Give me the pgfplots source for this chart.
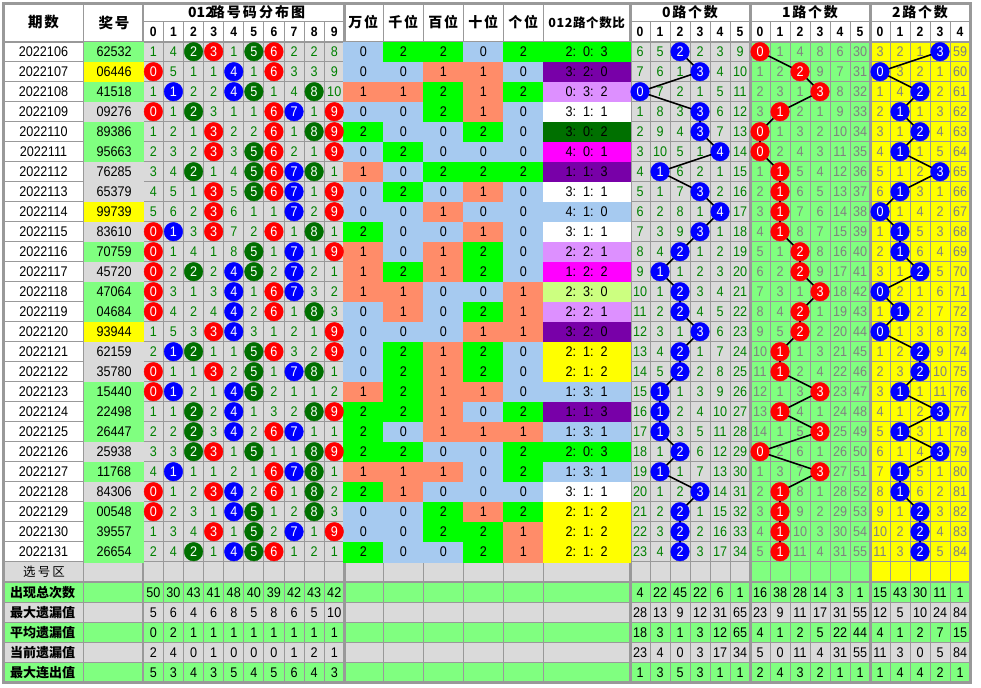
\documentclass[border=0pt]{standalone}
\usepackage{pgfplots}
\pgfplotsset{compat=1.18}
\usepackage{pgfplotstable}
\usepackage{fontspec}
\setmainfont{Liberation Sans}
\newfontfamily\numfam[FakeStretch=0.9]{Liberation Sans}
\newfontfamily\cjk{Noto Sans CJK SC}
\newfontfamily\cjks[LetterSpace=12]{Noto Sans CJK SC}
\newfontfamily\cjkw[LetterSpace=15]{Noto Sans CJK SC}
\newfontfamily\cjkn[LetterSpace=5]{Noto Sans CJK SC}
\newfontfamily\cjkx[LetterSpace=16]{Noto Sans CJK SC}
\newcommand\numf{\fontsize{14}{16}\selectfont\numfam}
\newcommand\bnumf{\fontsize{13.5}{16}\selectfont\numfam\bfseries}
\newcommand\hf{\fontsize{14}{16}\selectfont\cjks\bfseries}
\newcommand\hfs{\fontsize{14.5}{16}\selectfont\cjks\bfseries}
\newcommand\hfw{\fontsize{14}{16}\selectfont\cjkw\bfseries}
\newcommand\hfd{\fontsize{14}{16}\selectfont\cjk\bfseries}
\newcommand\hfn{\fontsize{12.5}{16}\selectfont\cjkn\bfseries}
\newcommand\lf{\fontsize{13}{16}\selectfont\cjk\bfseries}
\newcommand\xf{\fontsize{12.5}{16}\selectfont\cjkx}
\def\rfmtx#1:#2:#3\relax{#1:\enspace#2:\enspace#3}
\newcommand\rfmt{\edef\rtmp{\pgfplotspointmeta}\expandafter\rfmtx\rtmp\relax}

\definecolor{cgray}{RGB}{218,218,218}
\definecolor{lgreen}{RGB}{128,255,128}
\definecolor{cyel}{RGB}{255,255,0}
\definecolor{gl}{RGB}{153,153,153}
\definecolor{ngreen}{RGB}{0,128,0}
\definecolor{ngray}{RGB}{128,128,128}
\definecolor{cred}{RGB}{255,0,0}
\definecolor{cblue}{RGB}{0,0,255}
\definecolor{cdg}{RGB}{0,112,0}
\colorlet{dc0}{cred}\colorlet{dc1}{cblue}\colorlet{dc2}{cdg}
\colorlet{dc3}{cred}\colorlet{dc4}{cblue}\colorlet{dc5}{cdg}
\colorlet{dc6}{cred}\colorlet{dc7}{cblue}\colorlet{dc8}{cdg}
\colorlet{dc9}{cred}

\pgfplotsset{
  txt/.style 2 args={draw=none, mark=none, point meta=explicit symbolic,
    nodes near coords={\pgfplotspointmeta},
    every node near coord/.append style={anchor=center, inner sep=0pt, font=#1, text=#2}},
  circ/.style={only marks, mark=*, mark size=9.3, color=#1, point meta=explicit symbolic,
    every node near coord/.append style={anchor=center, inner sep=0pt, font=\numf, text=white}},
  cellsq/.style={scatter, only marks, mark=square*, mark size=10, point meta=explicit,
    point meta min=0, point meta max=11,
    scatter/use mapped color={draw=mapped color, fill=mapped color},
    mark options={xscale=#1, line width=0.1pt}},
}

\pgfplotstableread{
r qi jh jc w q b s g rt rc
0 2022106 62532 10 0 2 2 0 2 2:0:3 2
1 2022107 06446 9 0 0 1 1 0 3:2:0 4
2 2022108 41518 10 1 1 2 1 2 0:3:2 5
3 2022109 09276 11 0 0 2 1 0 3:1:1 3
4 2022110 89386 10 2 0 0 2 0 3:0:2 6
5 2022111 95663 10 0 2 0 0 0 4:0:1 7
6 2022112 76285 11 1 0 2 2 2 1:1:3 4
7 2022113 65379 11 0 2 0 1 0 3:1:1 3
8 2022114 99739 9 0 0 1 0 0 4:1:0 0
9 2022115 83610 11 2 0 0 1 0 3:1:1 3
10 2022116 70759 10 1 0 1 2 0 2:2:1 5
11 2022117 45720 11 1 2 1 2 0 1:2:2 7
12 2022118 47064 10 1 1 0 0 1 2:3:0 8
13 2022119 04684 10 0 1 0 2 1 2:2:1 5
14 2022120 93944 9 0 0 0 1 1 3:2:0 4
15 2022121 62159 11 0 2 1 2 0 2:1:2 9
16 2022122 35780 11 0 2 1 2 0 2:1:2 9
17 2022123 15440 10 1 2 1 1 0 1:3:1 0
18 2022124 22498 10 2 2 1 0 2 1:1:3 4
19 2022125 26447 10 2 0 1 1 1 1:3:1 0
20 2022126 25938 11 2 2 0 0 2 2:0:3 2
21 2022127 11768 10 1 1 1 0 2 1:3:1 0
22 2022128 84306 11 2 1 0 0 0 3:1:1 3
23 2022129 00548 10 0 0 2 1 2 2:1:2 9
24 2022130 39557 10 0 0 2 2 1 2:1:2 9
25 2022131 26654 10 2 0 0 2 1 2:1:2 9
}\main

\pgfplotstableread{
r d0 d1 d2 d3 d4 d5 d6 d7 d8 d9
0 1 4 0 0 1 0 0 2 2 8
1 0 5 1 1 0 1 0 3 3 9
2 1 0 2 2 0 0 1 4 0 10
3 0 1 0 3 1 1 0 0 1 0
4 1 2 1 0 2 2 0 1 0 0
5 2 3 2 0 3 0 0 2 1 0
6 3 4 0 1 4 0 0 0 0 1
7 4 5 1 0 5 0 0 0 1 0
8 5 6 2 0 6 1 1 0 2 0
9 0 0 3 0 7 2 0 1 0 1
10 0 1 4 1 8 0 1 0 1 0
11 0 2 0 2 0 0 2 0 2 1
12 0 3 1 3 0 1 0 0 3 2
13 0 4 2 4 0 2 0 1 0 3
14 1 5 3 0 0 3 1 2 1 0
15 2 0 0 1 1 0 0 3 2 0
16 0 1 1 0 2 0 1 0 0 1
17 0 0 2 1 0 0 2 1 1 2
18 1 1 0 2 0 1 3 2 0 0
19 2 2 0 3 0 2 0 0 1 1
20 3 3 0 0 1 0 1 1 0 0
21 4 0 1 1 2 1 0 0 0 1
22 0 1 2 0 0 2 0 1 0 2
23 0 2 3 1 0 0 1 2 0 3
24 1 3 4 0 1 0 2 0 1 0
25 2 4 0 1 0 0 0 1 2 1
}\dist

\pgfplotstableread{
r a0 a1 a2 a3 a4 a5 ha b0 b1 b2 b3 b4 b5 hb c0 c1 c2 c3 c4 hc
0 6 5 0 2 3 9 2 0 1 4 8 6 30 0 3 2 1 0 59 3
1 7 6 1 0 4 10 3 1 2 0 9 7 31 2 0 3 2 1 60 0
2 0 7 2 1 5 11 0 2 3 1 0 8 32 3 1 4 0 2 61 2
3 1 8 3 0 6 12 3 3 0 2 1 9 33 1 2 0 1 3 62 1
4 2 9 4 0 7 13 3 0 1 3 2 10 34 0 3 1 0 4 63 2
5 3 10 5 1 0 14 4 0 2 4 3 11 35 0 4 0 1 5 64 1
6 4 0 6 2 1 15 1 1 0 5 4 12 36 1 5 1 2 0 65 3
7 5 1 7 0 2 16 3 2 0 6 5 13 37 1 6 0 3 1 66 1
8 6 2 8 1 0 17 4 3 0 7 6 14 38 1 0 1 4 2 67 0
9 7 3 9 0 1 18 3 4 0 8 7 15 39 1 1 0 5 3 68 1
10 8 4 0 1 2 19 2 5 1 0 8 16 40 2 2 0 6 4 69 1
11 9 0 1 2 3 20 1 6 2 0 9 17 41 2 3 1 0 5 70 2
12 10 1 0 3 4 21 2 7 3 1 0 18 42 3 0 2 1 6 71 0
13 11 2 0 4 5 22 2 8 4 0 1 19 43 2 1 0 2 7 72 1
14 12 3 1 0 6 23 3 9 5 0 2 20 44 2 0 1 3 8 73 0
15 13 4 0 1 7 24 2 10 0 1 3 21 45 1 1 2 0 9 74 2
16 14 5 0 2 8 25 2 11 0 2 4 22 46 1 2 3 0 10 75 2
17 15 0 1 3 9 26 1 12 1 3 0 23 47 3 3 0 1 11 76 1
18 16 0 2 4 10 27 1 13 0 4 1 24 48 1 4 1 2 0 77 3
19 17 0 3 5 11 28 1 14 1 5 0 25 49 3 5 0 3 1 78 1
20 18 1 0 6 12 29 2 0 2 6 1 26 50 0 6 1 4 0 79 3
21 19 0 1 7 13 30 1 1 3 7 0 27 51 3 7 0 5 1 80 1
22 20 1 2 0 14 31 3 2 0 8 1 28 52 1 8 0 6 2 81 1
23 21 2 0 1 15 32 2 3 0 9 2 29 53 1 9 1 0 3 82 2
24 22 3 0 2 16 33 2 4 0 10 3 30 54 1 10 2 0 4 83 2
25 23 4 0 3 17 34 2 5 0 11 4 31 55 1 11 3 0 5 84 2
}\road

\pgfplotstableread{
r s0 s1 s2 s3 s4 s5 s6 s7 s8 s9 t0 t1 t2 t3 t4 t5 u0 u1 u2 u3 u4 u5 v0 v1 v2 v3 v4
0 50 30 43 41 48 40 39 42 43 42 4 22 45 22 6 1 16 38 28 14 3 1 15 43 30 11 1
1 5 6 4 6 8 5 8 6 5 10 28 13 9 12 31 65 23 9 11 17 31 55 12 5 10 24 84
2 0 2 1 1 1 1 1 1 1 1 18 3 1 3 12 65 4 1 2 5 22 44 4 1 2 7 15
3 2 4 0 1 0 0 0 1 2 1 23 4 0 3 17 34 5 0 11 4 31 55 11 3 0 5 84
4 5 3 4 3 5 4 5 6 4 3 1 3 5 3 1 1 2 4 3 2 1 1 1 4 4 2 1
}\stat

\begin{document}
\begin{tikzpicture}
\begin{axis}[
  x=1pt, y=1pt, y dir=reverse,
  xmin=0, xmax=981, ymin=0, ymax=687,
  hide axis, clip=false,
  colormap={cells}{rgb255=(166,202,240) rgb255=(255,140,105) rgb255=(0,255,0) rgb255=(255,255,255) rgb255=(120,0,168) rgb255=(221,144,255) rgb255=(0,112,0) rgb255=(255,0,255) rgb255=(204,255,128) rgb255=(255,255,0) rgb255=(128,255,128) rgb255=(218,218,218)},
]
% backgrounds
\addplot[fill=white, draw=none] coordinates {(0,0)(981,0)(981,687)(0,687)} -- cycle;
\addplot[fill=cgray, draw=none] coordinates {(143.3,41.7)(344.3,41.7)(344.3,581.7)(143.3,581.7)} -- cycle;
\addplot[fill=cgray, draw=none] coordinates {(3.3,561.7)(630,561.7)(630,581.7)(3.3,581.7)} -- cycle;
\addplot[fill=cgray, draw=none] coordinates {(630,41.7)(750,41.7)(750,581.7)(630,581.7)} -- cycle;
\addplot[fill=lgreen, draw=none] coordinates {(750,41.7)(870,41.7)(870,581.7)(750,581.7)} -- cycle;
\addplot[fill=cyel, draw=none] coordinates {(870,41.7)(970,41.7)(970,581.7)(870,581.7)} -- cycle;
\addplot[fill=lgreen, draw=none] coordinates {(3.3,582.2)(970,582.2)(970,602.7)(3.3,602.7)} -- cycle;
\addplot[fill=cgray, draw=none] coordinates {(3.3,602.7)(970,602.7)(970,622.7)(3.3,622.7)} -- cycle;
\addplot[fill=lgreen, draw=none] coordinates {(3.3,622.7)(970,622.7)(970,642.7)(3.3,642.7)} -- cycle;
\addplot[fill=cgray, draw=none] coordinates {(3.3,642.7)(970,642.7)(970,662.7)(3.3,662.7)} -- cycle;
\addplot[fill=lgreen, draw=none] coordinates {(3.3,662.7)(970,662.7)(970,682.7)(3.3,682.7)} -- cycle;
% coloured cells
\addplot[cellsq=2.975] table[x expr=113.55, y expr=51.7+20*\thisrow{r}, meta=jc] {\main};
\addplot[cellsq=2] table[x expr=363.3, y expr=51.7+20*\thisrow{r}, meta=w] {\main};
\addplot[cellsq=2] table[x expr=403.3, y expr=51.7+20*\thisrow{r}, meta=q] {\main};
\addplot[cellsq=2] table[x expr=443.3, y expr=51.7+20*\thisrow{r}, meta=b] {\main};
\addplot[cellsq=2] table[x expr=483.3, y expr=51.7+20*\thisrow{r}, meta=s] {\main};
\addplot[cellsq=2] table[x expr=523.3, y expr=51.7+20*\thisrow{r}, meta=g] {\main};
\addplot[cellsq=4.335] table[x expr=586.65, y expr=51.7+20*\thisrow{r}, meta=rc] {\main};
% grid lines
\addplot[gl, line width=1pt, unbounded coords=jump] coordinates {
(3.3,61.7)(970,61.7)(nan,nan)(3.3,81.7)(970,81.7)(nan,nan)(3.3,101.7)(970,101.7)(nan,nan)
(3.3,121.7)(970,121.7)(nan,nan)(3.3,141.7)(970,141.7)(nan,nan)(3.3,161.7)(970,161.7)(nan,nan)
(3.3,181.7)(970,181.7)(nan,nan)(3.3,201.7)(970,201.7)(nan,nan)(3.3,221.7)(970,221.7)(nan,nan)
(3.3,241.7)(970,241.7)(nan,nan)(3.3,261.7)(970,261.7)(nan,nan)(3.3,281.7)(970,281.7)(nan,nan)
(3.3,301.7)(970,301.7)(nan,nan)(3.3,321.7)(970,321.7)(nan,nan)(3.3,341.7)(970,341.7)(nan,nan)
(3.3,361.7)(970,361.7)(nan,nan)(3.3,381.7)(970,381.7)(nan,nan)(3.3,401.7)(970,401.7)(nan,nan)
(3.3,421.7)(970,421.7)(nan,nan)(3.3,441.7)(970,441.7)(nan,nan)(3.3,461.7)(970,461.7)(nan,nan)
(3.3,481.7)(970,481.7)(nan,nan)(3.3,501.7)(970,501.7)(nan,nan)(3.3,521.7)(970,521.7)(nan,nan)
(3.3,541.7)(970,541.7)(nan,nan)(3.3,561.7)(970,561.7)(nan,nan)(3.3,602.7)(970,602.7)(nan,nan)
(3.3,622.7)(970,622.7)(nan,nan)(3.3,642.7)(970,642.7)(nan,nan)(3.3,662.7)(970,662.7)(nan,nan)
(143.3,21.7)(344.3,21.7)(nan,nan)(630,21.7)(970,21.7)(nan,nan)
(83.8,3.3)(83.8,682.7)(nan,nan)(383.3,3.3)(383.3,682.7)(nan,nan)(423.3,3.3)(423.3,682.7)(nan,nan)
(463.3,3.3)(463.3,682.7)(nan,nan)(503.3,3.3)(503.3,682.7)(nan,nan)(543.3,3.3)(543.3,682.7)(nan,nan)
(163.4,21.7)(163.4,682.7)(nan,nan)(183.5,21.7)(183.5,682.7)(nan,nan)(203.6,21.7)(203.6,682.7)(nan,nan)
(223.7,21.7)(223.7,682.7)(nan,nan)(243.8,21.7)(243.8,682.7)(nan,nan)(263.9,21.7)(263.9,682.7)(nan,nan)
(284.0,21.7)(284.0,682.7)(nan,nan)(304.1,21.7)(304.1,682.7)(nan,nan)(324.2,21.7)(324.2,682.7)(nan,nan)
(650,21.7)(650,682.7)(nan,nan)(670,21.7)(670,682.7)(nan,nan)(690,21.7)(690,682.7)(nan,nan)
(710,21.7)(710,682.7)(nan,nan)(730,21.7)(730,682.7)(nan,nan)
(770,21.7)(770,682.7)(nan,nan)(790,21.7)(790,682.7)(nan,nan)(810,21.7)(810,682.7)(nan,nan)
(830,21.7)(830,682.7)(nan,nan)(850,21.7)(850,682.7)(nan,nan)
(890,21.7)(890,682.7)(nan,nan)(910,21.7)(910,682.7)(nan,nan)(930,21.7)(930,682.7)(nan,nan)
(950,21.7)(950,682.7)
};
\addplot[gl, line width=2.2pt, unbounded coords=jump] coordinates {
(3.3,41.7)(970,41.7)(nan,nan)(143.3,3.3)(143.3,682.7)(nan,nan)(3.3,582.2)(970,582.2)};
\addplot[gl, line width=3pt, unbounded coords=jump] coordinates {
(344.3,3.3)(344.3,682.7)(nan,nan)(630,3.3)(630,682.7)(nan,nan)(750,3.3)(750,682.7)(nan,nan)(870,3.3)(870,682.7)};
\addplot[gl, line width=3pt] coordinates {(3.3,3.3)(970.5,3.3)(970.5,682.5)(3.3,682.5)} -- cycle;
% connecting lines
\addplot[black, line width=1.6pt] table[x expr=640+20*\thisrow{ha}, y expr=51.7+20*\thisrow{r}] {\road};
\addplot[black, line width=1.6pt] table[x expr=760+20*\thisrow{hb}, y expr=51.7+20*\thisrow{r}] {\road};
\addplot[black, line width=1.6pt] table[x expr=880+20*\thisrow{hc}, y expr=51.7+20*\thisrow{r}] {\road};
% road circles
\addplot[circ=cblue, nodes near coords={\pgfplotspointmeta}] table[x expr=640+20*\thisrow{ha}, y expr=51.7+20*\thisrow{r}, meta=ha] {\road};
\addplot[circ=cred, nodes near coords={\pgfplotspointmeta}] table[x expr=760+20*\thisrow{hb}, y expr=51.7+20*\thisrow{r}, meta=hb] {\road};
\addplot[circ=cblue, nodes near coords={\pgfplotspointmeta}] table[x expr=880+20*\thisrow{hc}, y expr=51.7+20*\thisrow{r}, meta=hc] {\road};
% distribution
\pgfplotsinvokeforeach{0,...,9}{
  \addplot[txt={\numf}{ngreen}, restrict expr to domain={\thisrow{d#1}}{0.5:999}]
    table[x expr=153.35+20.1*#1, y expr=51.7+20*\thisrow{r}, meta=d#1] {\dist};
  \addplot[circ=dc#1, nodes near coords={#1}, restrict expr to domain={\thisrow{d#1}}{-0.5:0.5}]
    table[x expr=153.35+20.1*#1, y expr=51.7+20*\thisrow{r}, meta=d#1] {\dist};
  \addplot[txt={\numf}{black}]
    table[x expr=153.35+20.1*#1, y expr=592.7+20*\thisrow{r}, meta=s#1] {\stat};
}
\pgfplotsinvokeforeach{0,...,5}{
  \addplot[txt={\numf}{ngreen}, restrict expr to domain={\thisrow{a#1}}{0.5:999}]
    table[x expr=640+20*#1, y expr=51.7+20*\thisrow{r}, meta=a#1] {\road};
  \addplot[txt={\numf}{ngray}, restrict expr to domain={\thisrow{b#1}}{0.5:999}]
    table[x expr=760+20*#1, y expr=51.7+20*\thisrow{r}, meta=b#1] {\road};
  \addplot[txt={\numf}{black}]
    table[x expr=640+20*#1, y expr=592.7+20*\thisrow{r}, meta=t#1] {\stat};
  \addplot[txt={\numf}{black}]
    table[x expr=760+20*#1, y expr=592.7+20*\thisrow{r}, meta=u#1] {\stat};
}
\pgfplotsinvokeforeach{0,...,4}{
  \addplot[txt={\numf}{ngray}, restrict expr to domain={\thisrow{c#1}}{0.5:999}]
    table[x expr=880+20*#1, y expr=51.7+20*\thisrow{r}, meta=c#1] {\road};
  \addplot[txt={\numf}{black}]
    table[x expr=880+20*#1, y expr=592.7+20*\thisrow{r}, meta=v#1] {\stat};
}
% row texts
\addplot[txt={\numf}{black}] table[x expr=43.5, y expr=51.7+20*\thisrow{r}, meta=qi] {\main};
\addplot[txt={\numf}{black}] table[x expr=114.2, y expr=51.7+20*\thisrow{r}, meta=jh] {\main};
\addplot[txt={\numf}{black}] table[x expr=363.3, y expr=51.7+20*\thisrow{r}, meta=w] {\main};
\addplot[txt={\numf}{black}] table[x expr=403.3, y expr=51.7+20*\thisrow{r}, meta=q] {\main};
\addplot[txt={\numf}{black}] table[x expr=443.3, y expr=51.7+20*\thisrow{r}, meta=b] {\main};
\addplot[txt={\numf}{black}] table[x expr=483.3, y expr=51.7+20*\thisrow{r}, meta=s] {\main};
\addplot[txt={\numf}{black}] table[x expr=523.3, y expr=51.7+20*\thisrow{r}, meta=g] {\main};
\addplot[txt={\numf}{black}, nodes near coords={\rfmt}] table[x expr=586.65, y expr=51.7+20*\thisrow{r}, meta=rt] {\main};
% headers
\addplot[txt={\hfs}{black}] coordinates {(43.5,22.5) [期数] (114,22.5) [奖号]};
\addplot[txt={\hfd}{black}] coordinates {(201,12.5) [012]};
\addplot[txt={\hfw}{black}] coordinates {(258,12.5) [路号码分布图]};
\addplot[txt={\hf}{black}] coordinates {(363.3,22.5) [万位] (403.3,22.5) [千位] (443.3,22.5) [百位] (483.3,22.5) [十位] (523.3,22.5) [个位] (690,12.5) [0路个数] (810,12.5) [1路个数] (920,12.5) [2路个数]};
\addplot[txt={\hfn}{black}] coordinates {(586.65,22.5) [012路个数比]};
\addplot[txt={\bnumf}{black}] coordinates {
(153.35,31.7) [0] (173.45,31.7) [1] (193.55,31.7) [2] (213.65,31.7) [3] (233.75,31.7) [4]
(253.85,31.7) [5] (273.95,31.7) [6] (294.05,31.7) [7] (314.15,31.7) [8] (334.25,31.7) [9]
(640,31.7) [0] (660,31.7) [1] (680,31.7) [2] (700,31.7) [3] (720,31.7) [4] (740,31.7) [5]
(760,31.7) [0] (780,31.7) [1] (800,31.7) [2] (820,31.7) [3] (840,31.7) [4] (860,31.7) [5]
(880,31.7) [0] (900,31.7) [1] (920,31.7) [2] (940,31.7) [3] (960,31.7) [4]};
\addplot[txt={\xf}{black}] coordinates {(44,571.7) [选号区]};
\addplot[txt={\lf}{black}, every node near coord/.append style={anchor=west}] coordinates {
(10,592.7) [出现总次数] (10,612.7) [最大遗漏值] (10,632.7) [平均遗漏值] (10,652.7) [当前遗漏值] (10,672.7) [最大连出值]};
\end{axis}
\end{tikzpicture}
\end{document}
